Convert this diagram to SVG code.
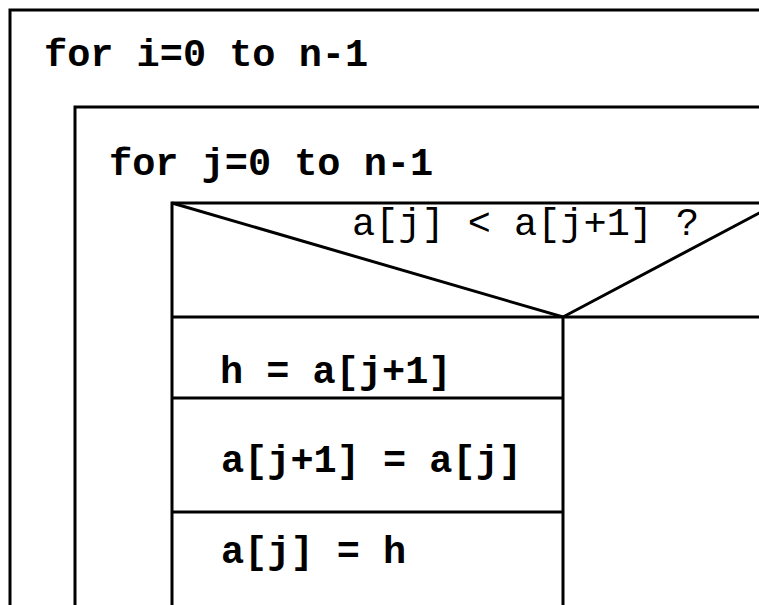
<svg xmlns="http://www.w3.org/2000/svg" width="759" height="605" viewBox="0 0 759 605">
<style>
.ln{fill:none;stroke:#000;stroke-width:3}
.t{font-family:"Liberation Mono","Courier New",monospace;font-size:38.6px;font-weight:bold;fill:#000}
.tr{font-family:"Liberation Mono","Courier New",monospace;font-size:38.6px;fill:#000}
</style>
<rect x="0" y="0" width="759" height="605" fill="#fff"/>
<g id="outer-loop">
<path class="ln" d="M10,620 V10 H800"/>
<text class="t" x="44" y="66">for i=0 to n-1</text>
</g>
<g id="inner-loop">
<path class="ln" d="M75,620 V107 H800"/>
<text class="t" x="109" y="175">for j=0 to n-1</text>
</g>
<g id="decision">
<path class="ln" d="M172,620 V203 H800"/>
<path class="ln" d="M172,203 L563,317 L778,203"/>
<path class="ln" d="M172,317 H800"/>
<path class="ln" d="M563,317 V620"/>
<text class="tr" x="352" y="235">a[j] &lt; a[j+1] ?</text>
</g>
<g id="stmt1">
<path class="ln" d="M172,398 H563"/>
<text class="t" x="220" y="383">h = a[j+1]</text>
</g>
<g id="stmt2">
<path class="ln" d="M172,512 H563"/>
<text class="t" x="221" y="472">a[j+1] = a[j]</text>
</g>
<g id="stmt3">
<text class="t" x="221" y="563">a[j] = h</text>
</g>
<g id="connectors"></g>
</svg>
